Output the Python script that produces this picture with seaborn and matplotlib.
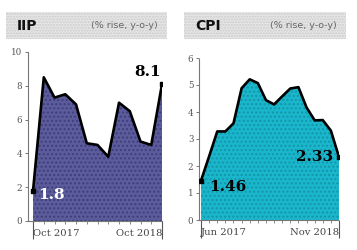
import matplotlib
matplotlib.use("Agg")
import matplotlib.pyplot as plt
import seaborn as sns
import pandas as pd
import numpy as np
from matplotlib.patches import Rectangle
from matplotlib.ticker import MultipleLocator

# ---- data ----
iip_months = ["Oct 2017", "Nov 2017", "Dec 2017", "Jan 2018", "Feb 2018", "Mar 2018", "Apr 2018",
              "May 2018", "Jun 2018", "Jul 2018", "Aug 2018", "Sep 2018", "Oct 2018"]
iip_values = [1.8, 8.5, 7.3, 7.5, 6.9, 4.6, 4.5, 3.8, 7.0, 6.5, 4.7, 4.5, 8.1]
iip_ticks = ["Oct 2017", "Oct 2018"]
iip_yticks = [0, 2, 4, 6, 8, 10]

cpi_months = ["Jun 2017", "Jul 2017", "Aug 2017", "Sep 2017", "Oct 2017", "Nov 2017", "Dec 2017",
              "Jan 2018", "Feb 2018", "Mar 2018", "Apr 2018", "May 2018", "Jun 2018", "Jul 2018",
              "Aug 2018", "Sep 2018", "Oct 2018", "Nov 2018"]
cpi_values = [1.46, 2.36, 3.28, 3.28, 3.58, 4.88, 5.21, 5.07, 4.44, 4.28, 4.58, 4.87, 4.92,
              4.17, 3.69, 3.70, 3.31, 2.33]
cpi_ticks = ["Jun 2017", "Nov 2018"]
cpi_yticks = [0, 1, 2, 3, 4, 5, 6]

sns.set_style("white")
plt.rcParams['font.family'] = ['DejaVu Sans']

W, H = 357, 250
fig = plt.figure(figsize=(W / 100, H / 100), dpi=100)


def fx(px):
    return px / W


def fy(py):
    return 1 - py / H


def panel(title, months, values, ticks, yticks, ymax, box, band, color, dotcolor, pad_months):
    left, top, right, bottom = box
    ax = fig.add_axes([fx(left), fy(bottom), fx(right - left), fy(top) - fy(bottom)])
    df = pd.DataFrame({"i": np.arange(len(months)), "month": months, "value": values})
    n = len(months) - 1
    ax.fill_between(df["i"], 0, df["value"], facecolor=color, edgecolor=dotcolor,
                    hatch="....", linewidth=0, zorder=1)
    sns.lineplot(data=df, x="i", y="value", ax=ax, color="black", lw=1.9, zorder=3,
                 solid_joinstyle="round", solid_capstyle="round")
    ends = df.iloc[[0, n]]
    ax.scatter(ends["i"], ends["value"], marker="s", s=10, color="black", zorder=4)
    ax.set_xlim(-pad_months, n)
    ax.set_ylim(0, ymax)
    ax.set_xlabel("")
    ax.set_ylabel("")
    for s in ["top", "right"]:
        ax.spines[s].set_visible(False)
    for s in ["left", "bottom"]:
        ax.spines[s].set_color("#777777")
        ax.spines[s].set_linestyle((0, (1, 1)))
        ax.spines[s].set_linewidth(0.8)
    ax.set_yticks(yticks)
    ax.set_yticklabels([str(t) for t in yticks], family="DejaVu Serif")
    ax.tick_params(axis="y", length=2.5, width=0.7, color="#777777", labelsize=6.3,
                   labelcolor="#555555", pad=1.5, left=True)
    ax.set_xticks([0, n])
    ax.set_xticklabels(ticks, family="DejaVu Serif")
    xl = ax.get_xticklabels()
    xl[0].set_ha("left")
    xl[1].set_ha("right")
    ax.tick_params(axis="x", which="major", length=13, width=0.8, color="#555555",
                   labelsize=7.2, labelcolor="#444444", pad=-7.5, bottom=True)
    ax.xaxis.set_minor_locator(MultipleLocator(1))
    ax.tick_params(axis="x", which="minor", length=2, width=0.6, color="#777777", bottom=True)
    ax.grid(False)
    ax.set_facecolor("none")
    bl, bt, br, bb = band
    fig.patches.append(Rectangle((fx(bl), fy(bb)), fx(br - bl), fy(bt) - fy(bb),
                                 transform=fig.transFigure, facecolor="#e6e6e6",
                                 edgecolor="#cccccc", hatch="......", linewidth=0, zorder=0))
    fig.text(fx(bl + 11), fy((bt + bb) / 2), title, fontsize=10, fontweight="heavy",
             ha="left", va="center", color="#111111")
    fig.text(fx(br - 9), fy((bt + bb) / 2), "(% rise, y-o-y)", fontsize=6.8,
             ha="right", va="center", color="#666666")
    return ax, df, n


ax1, d1, n1 = panel("IIP", iip_months, iip_values, iip_ticks, iip_yticks, 10,
                    (28, 52, 162, 221), (6, 12, 167, 39), "#5c5c9c", "#3e3e7a", 0.47)
ax1.annotate(f"{iip_values[0]:.1f}", xy=(0, iip_values[0]), xytext=(4, -3),
             textcoords="offset points", ha="left", va="center", color="white",
             fontsize=11, fontweight="bold", family="DejaVu Serif", zorder=5)
ax1.annotate(f"{iip_values[-1]:.1f}", xy=(n1, iip_values[-1]), xytext=(-1, 4),
             textcoords="offset points", ha="right", va="bottom", color="black",
             fontsize=11, fontweight="bold", family="DejaVu Serif", zorder=5)

ax2, d2, n2 = panel("CPI", cpi_months, cpi_values, cpi_ticks, cpi_yticks, 6,
                    (199, 58, 339, 220), (184, 12, 346, 39), "#1ab6cc", "#1396a8", 0.25)
ax2.annotate(f"{cpi_values[0]:.2f}", xy=(0, cpi_values[0]), xytext=(6, -4.5),
             textcoords="offset points", ha="left", va="center", color="black",
             fontsize=11, fontweight="bold", family="DejaVu Serif", zorder=5)
ax2.annotate(f"{cpi_values[-1]:.2f}", xy=(n2, cpi_values[-1]), xytext=(-4.5, 0),
             textcoords="offset points", ha="right", va="center", color="black",
             fontsize=11, fontweight="bold", family="DejaVu Serif", zorder=5)

fig.savefig("out.png", dpi=100)
